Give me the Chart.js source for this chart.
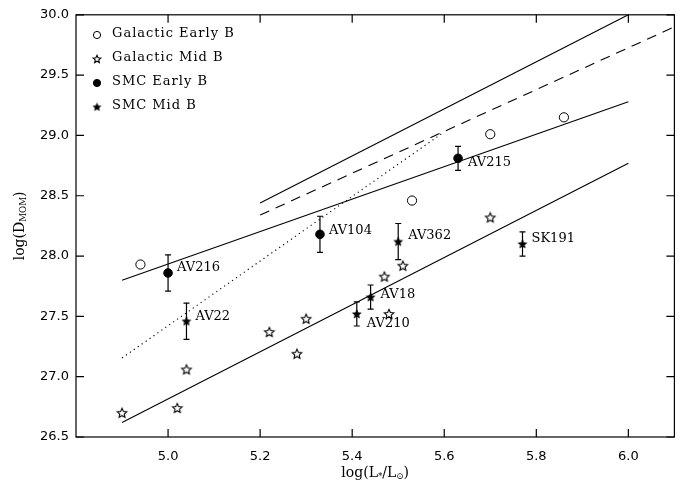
<!DOCTYPE html>
<html>
<head>
<meta charset="utf-8">
<title>log(D_MOM) vs log(L*/Lsun)</title>
<script src="https://cdn.jsdelivr.net/npm/chart.js@4.4.1/dist/chart.umd.min.js"></script>
<style>
    body { margin: 0; background: #fff; }
    canvas { display: block; }
</style>
</head>
<body>
<canvas id="momentumChart" width="680" height="481"></canvas>
<script>
// Galactic B supergiants
const galEarlyX = [4.94, 5.53, 5.70, 5.86];
const galEarlyY = [27.93, 28.46, 29.01, 29.15];
const galMidX = [4.90, 5.02, 5.04, 5.22, 5.28, 5.30, 5.47, 5.48, 5.51, 5.70];
const galMidY = [26.70, 26.74, 27.06, 27.37, 27.19, 27.48, 27.83, 27.52, 27.92, 28.32];

// SMC B supergiants (with error bars)
const smcEarlyNames = ['AV216', 'AV104', 'AV215'];
const smcEarlyX = [5.00, 5.33, 5.63];
const smcEarlyY = [27.86, 28.18, 28.81];
const smcEarlyErr = [0.15, 0.15, 0.10];
const smcMidNames = ['AV22', 'AV210', 'AV18', 'AV362', 'SK191'];
const smcMidX = [5.04, 5.41, 5.44, 5.50, 5.77];
const smcMidY = [27.46, 27.52, 27.66, 28.12, 28.10];
const smcMidErr = [0.15, 0.10, 0.10, 0.15, 0.10];

// Fitted relations (end points)
const fitUpperX = [5.2, 6.0];
const fitUpperY = [28.44, 30.0];
const fitDashedX = [5.2, 6.1];
const fitDashedY = [28.34, 29.90];
const fitEarlyX = [4.9, 6.0];
const fitEarlyY = [27.80, 29.28];
const fitMidX = [4.9, 6.0];
const fitMidY = [26.62, 28.77];
const fitDottedX = [4.9, 5.595];
const fitDottedY = [27.155, 29.016];

// Axis ticks
const xTicks = [5.0, 5.2, 5.4, 5.6, 5.8, 6.0];
const yTicks = [26.5, 27.0, 27.5, 28.0, 28.5, 29.0, 29.5, 30.0];

// Label offsets from the marker (pixels)
const smcEarlyLabelOffsets = [[9, -5], [9, -4], [10, 4]];
const smcMidLabelOffsets = [[9, -5], [10, 10], [10, -2], [10, -6], [9, -5]];

const SERIF = '"DejaVu Serif", serif';
const SANS = '"DejaVu Sans", sans-serif';

function toPoints(xs, ys) {
    return xs.map((x, i) => ({ x: x, y: ys[i] }));
}

/**
 * Five pointed star as an image usable for pointStyle
 */
function starCanvas(radius, filled) {
    const size = Math.ceil(radius * 2 + 4);
    const c = document.createElement('canvas');
    c.width = size;
    c.height = size;
    const g = c.getContext('2d');
    g.translate(size / 2, size / 2 + radius * 0.08);
    g.beginPath();
    for (let i = 0; i < 10; i++) {
        const r = i % 2 ? radius * 0.47 : radius;
        const a = -Math.PI / 2 + i * Math.PI / 5;
        g.lineTo(r * Math.cos(a), r * Math.sin(a));
    }
    g.closePath();
    g.fillStyle = filled ? '#000' : '#fff';
    g.fill();
    g.lineWidth = 1.1;
    g.strokeStyle = '#000';
    g.stroke();
    return c;
}

const openStar = starCanvas(5, false);
const filledStar = starCanvas(3.8, true);

function lineDataset(xs, ys, dash) {
    return {
        type: 'line',
        data: toPoints(xs, ys),
        borderColor: '#000',
        borderWidth: 1.1,
        borderDash: dash || [],
        pointRadius: 0,
        fill: false
    };
}

// Draws a sequence of [text, isSubscript] parts starting at x
function drawParts(ctx, parts, x, y, size) {
    let cx = x;
    parts.forEach(([text, sub]) => {
        ctx.font = (sub ? size * 0.62 : size) + 'px ' + SERIF;
        ctx.fillText(text, cx, sub ? y + size * 0.28 : y);
        cx += ctx.measureText(text).width;
    });
}

function partsWidth(ctx, parts, size) {
    let w = 0;
    parts.forEach(([text, sub]) => {
        ctx.font = (sub ? size * 0.62 : size) + 'px ' + SERIF;
        w += ctx.measureText(text).width;
    });
    return w;
}

// Frame, inward ticks, error bars, point names, legend and axis titles
const decorPlugin = {
    id: 'decor',
    afterDatasetsDraw(chart) {
        const ctx = chart.ctx;
        const xs = chart.scales.x;
        const ys = chart.scales.y;
        const area = chart.chartArea;

        // error bars
        ctx.save();
        ctx.strokeStyle = '#000';
        ctx.lineWidth = 1.2;
        const bars = [[smcEarlyX, smcEarlyY, smcEarlyErr], [smcMidX, smcMidY, smcMidErr]];
        bars.forEach(([bx, by, be]) => {
            bx.forEach((x, i) => {
                const px = xs.getPixelForValue(x);
                const top = ys.getPixelForValue(by[i] + be[i]);
                const bot = ys.getPixelForValue(by[i] - be[i]);
                ctx.beginPath();
                ctx.moveTo(px, top);
                ctx.lineTo(px, bot);
                ctx.moveTo(px - 3, top);
                ctx.lineTo(px + 3, top);
                ctx.moveTo(px - 3, bot);
                ctx.lineTo(px + 3, bot);
                ctx.stroke();
            });
        });

        // point names
        ctx.fillStyle = '#000';
        ctx.font = '13px ' + SERIF;
        ctx.textAlign = 'left';
        ctx.textBaseline = 'middle';
        const named = [[2, smcEarlyNames, smcEarlyLabelOffsets], [3, smcMidNames, smcMidLabelOffsets]];
        named.forEach(([dsIndex, names, offsets]) => {
            const meta = chart.getDatasetMeta(dsIndex);
            names.forEach((name, i) => {
                const el = meta.data[i];
                ctx.fillText(name, el.x + offsets[i][0], el.y + offsets[i][1]);
            });
        });

        // frame with inward ticks on all sides
        ctx.lineWidth = 1.2;
        ctx.strokeRect(area.left, area.top, area.right - area.left, area.bottom - area.top);
        const tl = 8;
        ctx.beginPath();
        xTicks.forEach(v => {
            const px = xs.getPixelForValue(v);
            ctx.moveTo(px, area.bottom);
            ctx.lineTo(px, area.bottom - tl);
            ctx.moveTo(px, area.top);
            ctx.lineTo(px, area.top + tl);
        });
        yTicks.forEach(v => {
            const py = ys.getPixelForValue(v);
            ctx.moveTo(area.left, py);
            ctx.lineTo(area.left + tl, py);
            ctx.moveTo(area.right, py);
            ctx.lineTo(area.right - tl, py);
        });
        ctx.stroke();

        // legend
        const rows = [
            { ds: 0, y: 34 },
            { ds: 1, y: 58 },
            { ds: 2, y: 82 },
            { ds: 3, y: 106 }
        ];
        const legendIcons = [null, starCanvas(4, false), null, starCanvas(3.4, true)];
        rows.forEach((row, i) => {
            const ds = chart.data.datasets[row.ds];
            const sx = 97;
            const sy = row.y + 1;
            if (legendIcons[i]) {
                const img = legendIcons[i];
                ctx.drawImage(img, sx - img.width / 2, sy - img.height / 2);
            } else {
                ctx.beginPath();
                ctx.arc(sx, sy, 3.6, 0, Math.PI * 2);
                ctx.fillStyle = ds.backgroundColor;
                ctx.fill();
                ctx.lineWidth = 1;
                ctx.stroke();
            }
            ctx.fillStyle = '#000';
            ctx.font = '13px ' + SERIF;
            ctx.letterSpacing = '1px';
            ctx.textBaseline = 'middle';
            ctx.fillText(ds.label, 112, row.y);
            ctx.letterSpacing = '0px';
        });
        ctx.restore();
    },
    afterDraw(chart) {
        const ctx = chart.ctx;
        const area = chart.chartArea;
        ctx.save();
        ctx.fillStyle = '#000';
        ctx.textAlign = 'left';
        ctx.textBaseline = 'middle';

        // x axis title
        const xParts = [['log(L', false], ['*', true], ['/L', false], ['\u2299', true], [')', false]];
        const xw = partsWidth(ctx, xParts, 14);
        drawParts(ctx, xParts, (area.left + area.right) / 2 - xw / 2, 473, 14);

        // y axis title
        const yParts = [['log(D', false], ['MOM', true], [')', false]];
        const yw = partsWidth(ctx, yParts, 14);
        ctx.translate(20, (area.top + area.bottom) / 2);
        ctx.rotate(-Math.PI / 2);
        drawParts(ctx, yParts, -yw / 2, 0, 14);
        ctx.restore();
    }
};

const ctx = document.getElementById('momentumChart');

new Chart(ctx, {
    type: 'scatter',
    data: {
        datasets: [
            {
                label: 'Galactic Early B',
                data: toPoints(galEarlyX, galEarlyY),
                pointStyle: 'circle',
                pointRadius: 4.6,
                backgroundColor: '#fff',
                borderColor: '#000',
                borderWidth: 1
            },
            {
                label: 'Galactic Mid B',
                data: toPoints(galMidX, galMidY),
                pointStyle: openStar,
                backgroundColor: '#fff',
                borderColor: '#000'
            },
            {
                label: 'SMC Early B',
                data: toPoints(smcEarlyX, smcEarlyY),
                pointStyle: 'circle',
                pointRadius: 4.3,
                backgroundColor: '#000',
                borderColor: '#000',
                borderWidth: 1
            },
            {
                label: 'SMC Mid B',
                data: toPoints(smcMidX, smcMidY),
                pointStyle: filledStar,
                backgroundColor: '#000',
                borderColor: '#000'
            },
            lineDataset(fitUpperX, fitUpperY),
            lineDataset(fitDashedX, fitDashedY, [10, 7]),
            lineDataset(fitEarlyX, fitEarlyY),
            lineDataset(fitMidX, fitMidY),
            lineDataset(fitDottedX, fitDottedY, [1.2, 3.6])
        ]
    },
    options: {
        responsive: false,
        animation: false,
        events: [],
        layout: {
            padding: { top: 11, right: 5, left: 0, bottom: 0 }
        },
        plugins: {
            legend: { display: false },
            tooltip: { enabled: false }
        },
        scales: {
            x: {
                type: 'linear',
                min: 4.8,
                max: 6.1,
                afterBuildTicks: scale => {
                    scale.ticks = xTicks.map(v => ({ value: v }));
                },
                afterFit: scale => {
                    scale.height = 44;
                },
                grid: { display: false, drawTicks: false },
                border: { display: false },
                ticks: {
                    padding: 12,
                    color: '#000',
                    font: { family: SANS, size: 13 },
                    callback: v => v.toFixed(1)
                }
            },
            y: {
                type: 'linear',
                min: 26.5,
                max: 30.0,
                afterBuildTicks: scale => {
                    scale.ticks = yTicks.map(v => ({ value: v }));
                },
                afterFit: scale => {
                    scale.width = 76;
                },
                grid: { display: false, drawTicks: false },
                border: { display: false },
                ticks: {
                    padding: 7,
                    color: '#000',
                    font: { family: SANS, size: 13 },
                    callback: v => v.toFixed(1)
                }
            }
        }
    },
    plugins: [decorPlugin]
});
</script>
</body>
</html>
